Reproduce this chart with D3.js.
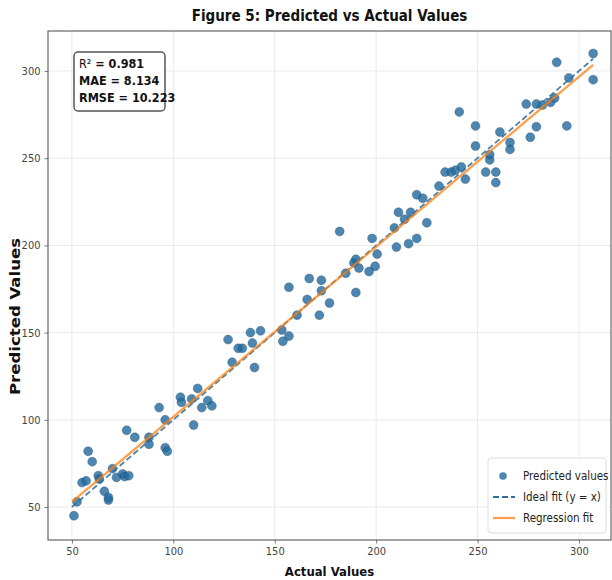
<!DOCTYPE html>
<html>
<head>
<meta charset="utf-8">
<script src="https://cdn.jsdelivr.net/npm/d3@7"></script>
<style>
  body { margin: 0; background: #fff; }
  text { font-family: "DejaVu Sans Condensed", "Liberation Sans Narrow", sans-serif; }
</style>
</head>
<body>
<svg id="chart" width="612" height="580"></svg>
<script>
// actual vs predicted
var actual = [51, 52.5, 55, 57, 58, 60, 63, 63.5, 66, 68, 68, 70, 72, 75, 76, 78, 77, 81, 88, 88,
    93, 96, 97, 96, 103.5, 104, 109, 110, 112, 114, 117, 119, 129, 127, 132, 134, 138, 139, 140, 143,
    153.5, 154, 157, 157, 161, 166, 167, 172, 173, 173, 177, 185, 190, 189, 182, 198, 200.5, 199.5, 190, 191.5,
    196.5, 210, 216, 220, 209, 211, 214, 217, 225, 220, 223, 231, 234, 237, 239, 242, 244, 249, 254, 256,
    256, 259, 259, 241, 249, 261, 266, 266, 276, 279, 274, 279, 282, 286, 288, 289, 294, 295, 307, 307];
var predicted = [45, 53, 64, 65, 82, 76, 68, 66, 59, 54, 55.5, 72, 67, 69, 67.5, 68, 94, 90, 90, 86,
    107, 84, 82, 100, 113, 110, 112, 97, 118, 107, 111, 108, 133, 146, 141, 141, 150, 144, 130, 151,
    151.5, 145, 148, 176, 160, 169, 181, 160, 180, 174, 167, 184, 173, 190, 208, 204, 195, 188, 192, 187,
    185, 199, 201, 204, 210, 219, 215, 219, 213, 229, 227, 234, 242, 242, 243, 245, 238, 257, 242, 249,
    252, 236, 242, 276.5, 268.5, 265, 259, 255, 262, 268, 281, 281, 280.5, 282, 284.5, 305, 268.5, 296, 310, 295];
var xTicks = [50, 100, 150, 200, 250, 300];
var yTicks = [50, 100, 150, 200, 250, 300];
var fitRange = [50, 307];
var regSlope = 0.975, regIntercept = 4.2;
var statLines = [["R\u00B2", " = 0.981"], ["MAE = 8.134", ""], ["RMSE = 10.223", ""]];
var legendItems = ["Predicted values", "Ideal fit (y = x)", "Regression fit"];

var svg = d3.select("#chart");
var margin = {top: 31, right: 1, bottom: 40, left: 48},
    width = +svg.attr("width") - margin.left - margin.right,
    height = +svg.attr("height") - margin.top - margin.bottom;

var blue = "#1f77b4", orange = "#ff7f0e";

var x = d3.scaleLinear().domain([38.2, 315.8]).range([0, width]);
var y = d3.scaleLinear().domain([31.1, 322.9]).range([height, 0]);

var g = svg.append("g").attr("transform", "translate(" + margin.left + "," + margin.top + ")");

// grid
g.append("g").selectAll("line").data(xTicks).enter().append("line")
    .attr("x1", function(d) { return x(d); }).attr("x2", function(d) { return x(d); })
    .attr("y1", 0).attr("y2", height)
    .attr("stroke", "#e4e4e4").attr("stroke-width", 0.8);
g.append("g").selectAll("line").data(yTicks).enter().append("line")
    .attr("y1", function(d) { return y(d); }).attr("y2", function(d) { return y(d); })
    .attr("x1", 0).attr("x2", width)
    .attr("stroke", "#e4e4e4").attr("stroke-width", 0.8);

// axes
var xAxis = g.append("g").attr("transform", "translate(0," + height + ")")
    .call(d3.axisBottom(x).tickValues(xTicks).tickSize(3.5).tickPadding(4));
var yAxis = g.append("g")
    .call(d3.axisLeft(y).tickValues(yTicks).tickSize(3.5).tickPadding(4));
[xAxis, yAxis].forEach(function(a) {
    a.select(".domain").remove();
    a.selectAll("line").attr("stroke", "#777");
    a.selectAll("text").attr("fill", "#444").style("font-size", "11px")
        .style("font-family", "'DejaVu Sans Condensed', 'Liberation Sans Narrow', sans-serif");
});

// points
g.append("g").selectAll("circle").data(actual).enter().append("circle")
    .attr("cx", function(d) { return x(d); })
    .attr("cy", function(d, i) { return y(predicted[i]); })
    .attr("r", 4.5)
    .attr("fill", "#20699e").attr("fill-opacity", 0.8)
    .attr("stroke", "#2a4f6a").attr("stroke-opacity", 0.6).attr("stroke-width", 0.6);

// ideal fit
g.append("line")
    .attr("x1", x(fitRange[0])).attr("y1", y(fitRange[0]))
    .attr("x2", x(fitRange[1])).attr("y2", y(fitRange[1]))
    .attr("stroke", "#2e6f9e").attr("stroke-width", 1.8).attr("stroke-dasharray", "6,3")
    .attr("opacity", 0.85);

// regression fit
g.append("line")
    .attr("x1", x(fitRange[0])).attr("y1", y(regIntercept + regSlope * fitRange[0]))
    .attr("x2", x(fitRange[1])).attr("y2", y(regIntercept + regSlope * fitRange[1]))
    .attr("stroke", orange).attr("stroke-width", 2.2).attr("opacity", 0.75);

// frame
g.append("rect").attr("width", width).attr("height", height)
    .attr("fill", "none").attr("stroke", "#666").attr("stroke-width", 1.2);

// stats box
var stats = g.append("g").attr("transform", "translate(26,21)");
stats.append("rect").attr("width", 91).attr("height", 59).attr("rx", 4)
    .attr("fill", "#fff").attr("stroke", "#555").attr("stroke-width", 1.5);
statLines.forEach(function(s, i) {
    var t = stats.append("text").attr("x", 5).attr("y", 16 + i * 17)
        .style("font-size", "12.5px").attr("fill", "#111");
    t.append("tspan").style("font-weight", i === 0 ? "normal" : "bold").text(s[0]);
    if (s[1]) t.append("tspan").style("font-weight", "bold").text(s[1]);
});

// legend
var leg = g.append("g").attr("transform", "translate(" + (width - 123) + "," + (height - 82) + ")");
leg.append("rect").attr("width", 118).attr("height", 75).attr("rx", 3)
    .attr("fill", "#fff").attr("fill-opacity", 0.85)
    .attr("stroke", "#ddd").attr("stroke-width", 1);
legendItems.forEach(function(d, i) {
    var yy = 18 + i * 21;
    if (i === 0) {
        leg.append("circle").attr("cx", 15).attr("cy", yy).attr("r", 3.8)
            .attr("fill", "#20699e").attr("fill-opacity", 0.8);
    } else if (i === 1) {
        leg.append("line").attr("x1", 5).attr("x2", 27).attr("y1", yy).attr("y2", yy)
            .attr("stroke", "#2e6f9e").attr("stroke-width", 1.8).attr("stroke-dasharray", "6,3");
    } else {
        leg.append("line").attr("x1", 5).attr("x2", 27).attr("y1", yy).attr("y2", yy)
            .attr("stroke", orange).attr("stroke-width", 2.2).attr("opacity", 0.75);
    }
    leg.append("text").attr("x", 35).attr("y", yy).attr("dy", "0.35em")
        .style("font-size", "11.5px").attr("fill", "#222").text(d);
});

// title and axis labels
svg.append("text").attr("x", margin.left + width / 2).attr("y", 21)
    .attr("text-anchor", "middle").style("font-size", "15px").style("font-weight", "bold")
    .attr("fill", "#111").text("Figure 5: Predicted vs Actual Values");
svg.append("text").attr("x", margin.left + width / 2).attr("y", 576)
    .attr("text-anchor", "middle").style("font-size", "13px").style("font-weight", "bold")
    .attr("fill", "#111").text("Actual Values");
svg.append("text")
    .attr("transform", "translate(20," + (margin.top + height / 2 + 31) + ") rotate(-90)")
    .attr("text-anchor", "middle")
    .style("font-family", "'DejaVu Sans', sans-serif")
    .style("font-size", "13.5px").style("font-weight", "bold")
    .attr("textLength", 157).attr("lengthAdjust", "spacingAndGlyphs")
    .attr("fill", "#111").text("Predicted Values");
</script>
</body>
</html>
